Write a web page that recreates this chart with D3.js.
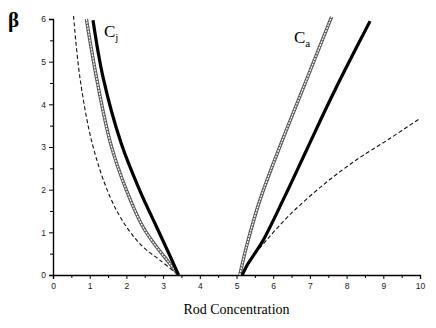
<!DOCTYPE html>
<html>
<head>
<meta charset="utf-8">
<script src="https://cdn.jsdelivr.net/npm/d3@7"></script>
<style>
  body { margin: 0; background: #fff; }
  svg { display: block; }
</style>
</head>
<body>
<div id="chart"></div>
<script>
// values: [rod concentration, beta]
var dashedLeft = [[0.56, 6.07], [0.73, 4.65], [1.07, 3.08], [1.55, 1.84], [2.0, 1.13], [2.45, 0.66], [2.91, 0.35], [3.42, 0]];
var circleLeft = [[0.91, 6.0], [1.18, 4.65], [1.57, 3.08], [2.0, 1.99], [2.45, 1.13], [2.82, 0.66], [3.18, 0.27], [3.42, 0]];
var solidLeft = [[1.09, 5.97], [1.36, 4.65], [1.86, 3.08], [2.36, 1.99], [2.82, 1.13], [3.16, 0.5], [3.42, 0]];
var dashedRight = [[5.12, 0], [5.45, 0.43], [5.82, 0.82], [6.45, 1.41], [7.36, 2.11], [8.27, 2.7], [9.18, 3.2], [10.0, 3.67]];
var solidRight = [[5.16, 0], [5.27, 0.2], [5.73, 0.82], [6.27, 1.76], [6.91, 2.93], [7.55, 4.1], [8.1, 5.05], [8.64, 5.95]];
var circleRight = [[5.09, 0], [5.27, 0.66], [5.64, 1.76], [6.2, 3.05], [6.85, 4.45], [7.59, 6.05]];

var xTicks = [0, 1, 2, 3, 4, 5, 6, 7, 8, 9, 10];
var yTicks = [0, 1, 2, 3, 4, 5, 6];

var width = 436, height = 328;
var margin = {top: 19, right: 16, bottom: 53, left: 53};

var svg = d3.select("#chart")
  .append("svg")
    .attr("width", width)
    .attr("height", height);

var x = d3.scaleLinear().domain([0, 10]).range([margin.left, width - margin.right]);
var y = d3.scaleLinear().domain([0, 6]).range([height - margin.bottom, margin.top]);

// minor ticks every 0.5
var xMinor = d3.range(0.5, 10, 1);
var yMinor = d3.range(0.5, 6, 1);

svg.append("g")
  .attr("transform", "translate(0," + y(0) + ")")
  .call(d3.axisBottom(x).tickValues(xTicks).tickSize(4).tickPadding(4).tickFormat(d3.format("d")));
svg.append("g")
  .attr("transform", "translate(0," + y(0) + ")")
  .call(d3.axisBottom(x).tickValues(xMinor).tickSize(3).tickFormat(""))
  .select(".domain").remove();

svg.append("g")
  .attr("transform", "translate(" + x(0) + ",0)")
  .call(d3.axisLeft(y).tickValues(yTicks).tickSize(4).tickPadding(3).tickFormat(d3.format("d")));
svg.append("g")
  .attr("transform", "translate(" + x(0) + ",0)")
  .call(d3.axisLeft(y).tickValues(yMinor).tickSize(3).tickFormat(""))
  .select(".domain").remove();

svg.selectAll(".domain").attr("stroke", "#000").attr("stroke-width", 1.4);
svg.selectAll(".tick line").attr("stroke", "#000").attr("stroke-width", 1);
svg.selectAll(".tick text")
  .attr("font-family", "Liberation Sans, Arial, sans-serif")
  .attr("font-size", "8.5px")
  .attr("fill", "#222");

var line = d3.line()
  .x(function(d) { return x(d[0]); })
  .y(function(d) { return y(d[1]); })
  .curve(d3.curveCatmullRom.alpha(0.5));

// dashed curves
[dashedLeft, dashedRight].forEach(function(s) {
  svg.append("path")
    .attr("d", line(s))
    .attr("fill", "none")
    .attr("stroke", "#111")
    .attr("stroke-width", 1.1)
    .attr("stroke-dasharray", "4,2.5");
});

// chain of small circles
[circleLeft, circleRight].forEach(function(s) {
  svg.append("path")
    .attr("d", line(s))
    .attr("fill", "none")
    .attr("stroke", "#555")
    .attr("stroke-width", 3.4);
  svg.append("path")
    .attr("d", line(s))
    .attr("fill", "none")
    .attr("stroke", "#fff")
    .attr("stroke-width", 1.3)
    .attr("stroke-dasharray", "2,1");
});

// thick solid curves
[solidLeft, solidRight].forEach(function(s) {
  svg.append("path")
    .attr("d", line(s))
    .attr("fill", "none")
    .attr("stroke", "#000")
    .attr("stroke-width", 3.2);
});

// labels
svg.append("text")
  .attr("x", 8).attr("y", 27)
  .attr("font-family", "Liberation Serif, Times New Roman, serif")
  .attr("font-size", "21px")
  .attr("font-weight", "bold")
  .text("β");

var cj = svg.append("text")
  .attr("x", 104).attr("y", 37)
  .attr("font-family", "Liberation Serif, Times New Roman, serif")
  .attr("font-size", "17px");
cj.append("tspan").text("C");
cj.append("tspan").attr("font-size", "11px").attr("dy", 4).text("j");

var ca = svg.append("text")
  .attr("x", 294).attr("y", 43)
  .attr("font-family", "Liberation Serif, Times New Roman, serif")
  .attr("font-size", "17px");
ca.append("tspan").text("C");
ca.append("tspan").attr("font-size", "11px").attr("dy", 4).text("a");

svg.append("text")
  .attr("x", x(5)).attr("y", 314)
  .attr("text-anchor", "middle")
  .attr("font-family", "Liberation Serif, Times New Roman, serif")
  .attr("font-size", "14px")
  .text("Rod Concentration");
</script>
</body>
</html>
